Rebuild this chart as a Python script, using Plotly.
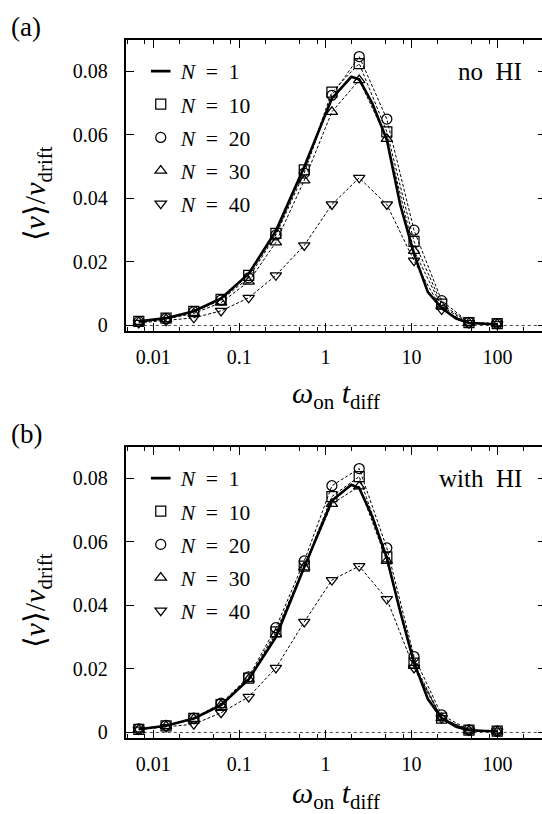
import plotly.graph_objects as go

# ---------------- data ----------------
x_pts = [0.0068, 0.0141, 0.0296, 0.0614, 0.1285, 0.266, 0.568, 1.19, 2.47, 5.17, 10.7, 22.4, 46.5, 99]
x_n1 = [0.0068, 0.0141, 0.0296, 0.0614, 0.1285, 0.266, 0.568, 1.19, 2.0, 2.47, 3.5, 5.17, 7.4, 10.7, 15.5, 22.4, 33, 46.5, 99]

# panel (a): no HI
a_n1 = [0.0013, 0.0023, 0.0045, 0.0085, 0.0163, 0.0298, 0.0500, 0.0715, 0.0783, 0.0775, 0.0700, 0.0585, 0.0380, 0.0225, 0.0105, 0.0055, 0.0022, 0.0008, 0.0003]
a_n10 = [0.0013, 0.0023, 0.0044, 0.0082, 0.0158, 0.0290, 0.0490, 0.0735, 0.0825, 0.0610, 0.0265, 0.0067, 0.0009, 0.0006]
a_n20 = [0.0012, 0.0022, 0.0043, 0.0080, 0.0150, 0.0285, 0.0480, 0.0725, 0.0847, 0.0650, 0.0300, 0.0078, 0.0010, 0.0006]
a_n30 = [0.0011, 0.0020, 0.0038, 0.0072, 0.0138, 0.0262, 0.0457, 0.0673, 0.0773, 0.0588, 0.0235, 0.0060, 0.0008, 0.0005]
a_n40 = [0.0008, 0.0015, 0.0024, 0.0046, 0.0087, 0.0158, 0.0252, 0.0381, 0.0465, 0.0381, 0.0204, 0.0050, 0.0007, 0.0004]

# panel (b): with HI
b_n1 = [0.0010, 0.0021, 0.0044, 0.0086, 0.0167, 0.0300, 0.0520, 0.0730, 0.0780, 0.0770, 0.0680, 0.0550, 0.0380, 0.0220, 0.0105, 0.0045, 0.0018, 0.0007, 0.0003]
b_n10 = [0.0010, 0.0021, 0.0044, 0.0088, 0.0171, 0.0317, 0.0524, 0.0743, 0.0806, 0.0553, 0.0218, 0.0045, 0.0007, 0.0004]
b_n20 = [0.0011, 0.0022, 0.0045, 0.0092, 0.0175, 0.0330, 0.0540, 0.0777, 0.0831, 0.0581, 0.0239, 0.0055, 0.0008, 0.0004]
b_n30 = [0.0010, 0.0020, 0.0043, 0.0086, 0.0168, 0.0310, 0.0520, 0.0720, 0.0775, 0.0540, 0.0210, 0.0045, 0.0006, 0.0003]
b_n40 = [0.0009, 0.0017, 0.0026, 0.0062, 0.0112, 0.0203, 0.0348, 0.0480, 0.0524, 0.0420, 0.0203, 0.0045, 0.0006, 0.0003]

NB = "\u00a0"
series_labels = [f"<i>N</i>{NB}{NB}={NB}{NB}{v}" for v in ("1", "10", "20", "30", "40")]
marker_symbols = ["square-open", "circle-open", "triangle-up-open", "triangle-down-open"]

x_tickvals = [0.01, 0.1, 1, 10, 100]
x_ticktext = ["0.01", "0.1", "1", "10", "100"]
x_minor = [m * 10.0 ** e for e in range(-3, 3) for m in (2, 5, 8)]
y_tickvals = [0, 0.02, 0.04, 0.06, 0.08]
y_ticktext = ["0", "0.02", "0.04", "0.06", "0.08"]

panel_tags = ["(a)", "(b)"]
panel_notes = [f"no{NB} HI", f"with{NB} HI"]

# ---------------- figure ----------------
# the plot frame continues slightly past the right edge of the 542 px window (as in the reference)
W, H = 548, 814
FONT = "Liberation Serif, Times New Roman, serif"
fig = go.Figure()

def py(p):
    return 1 - p / H

def px(p):
    return p / W

panels = [
    dict(n1=a_n1, ms=[a_n10, a_n20, a_n30, a_n40], xa="x", ya="y", leg="legend"),
    dict(n1=b_n1, ms=[b_n10, b_n20, b_n30, b_n40], xa="x2", ya="y2", leg="legend2"),
]

for pi, p in enumerate(panels):
    fig.add_trace(go.Scatter(x=x_n1, y=p["n1"], mode="lines", xaxis=p["xa"], yaxis=p["ya"],
                             line=dict(color="black", width=2.6), showlegend=False, hoverinfo="skip"))
    fig.add_trace(go.Scatter(x=[None], y=[None], mode="markers", xaxis=p["xa"], yaxis=p["ya"],
                             marker=dict(symbol="line-ew", size=14, line=dict(color="black", width=2.6)),
                             name=series_labels[0], legend=p["leg"], legendgroup=f"{pi}g0", showlegend=True))
    for k, ys in enumerate(p["ms"]):
        fig.add_trace(go.Scatter(x=x_pts, y=ys, mode="lines", xaxis=p["xa"], yaxis=p["ya"],
                                 line=dict(color="black", width=1, dash="3px,2px"),
                                 showlegend=False, hoverinfo="skip"))
    for k, ys in enumerate(p["ms"]):
        fig.add_trace(go.Scatter(x=x_pts, y=ys, mode="markers", xaxis=p["xa"], yaxis=p["ya"],
                                 marker=dict(symbol=marker_symbols[k], size=10, color="black",
                                             line=dict(color="black", width=1.25)),
                                 name=series_labels[k + 1], legend=p["leg"], legendgroup=f"{pi}g{k+1}"))

axis_common_x = dict(type="log", range=[-2.3188, 2.5623], showline=True, linecolor="black", linewidth=1.8,
                     mirror="allticks", ticks="inside", ticklen=8, tickwidth=1.2, tickcolor="black",
                     tickvals=x_tickvals, ticktext=x_ticktext, showgrid=False, zeroline=False,
                     tickfont=dict(family=FONT, size=20, color="black"), ticklabelstandoff=8,
                     ticklabeloverflow="allow",
                     minor=dict(tickvals=x_minor, ticks="inside", ticklen=4, tickwidth=1.2, tickcolor="black",
                                showgrid=False),
                     domain=[px(126), px(547)])
axis_common_y = dict(range=[-0.0016, 0.09], showline=True, linecolor="black", linewidth=1.8,
                     mirror="allticks", ticks="inside", ticklen=8, tickwidth=1.2, tickcolor="black",
                     tickvals=y_tickvals, ticktext=y_ticktext, showgrid=False, zeroline=False,
                     tickfont=dict(family=FONT, size=20, color="black"), ticklabelstandoff=12)

fig.update_layout(
    xaxis=dict(axis_common_x, anchor="y"),
    yaxis=dict(axis_common_y, anchor="x", domain=[py(333), py(40)]),
    xaxis2=dict(axis_common_x, anchor="y2"),
    yaxis2=dict(axis_common_y, anchor="x2", domain=[py(743), py(450)]),
)

leg_common = dict(font=dict(family=FONT, size=21.5, color="black"), bgcolor="rgba(0,0,0,0)",
                  borderwidth=0, traceorder="grouped", tracegroupgap=2.2, xanchor="left", yanchor="top",
                  itemwidth=30)
fig.update_layout(
    legend=dict(leg_common, x=px(141), y=py(51)),
    legend2=dict(leg_common, x=px(141), y=py(461)),
)

annotations = []
shapes = []
for pi, p in enumerate(panels):
    off = 410 * pi
    annotations.append(dict(text=panel_tags[pi], xref="paper", yref="paper", x=px(9), y=py(27 + off),
                            xanchor="left", yanchor="middle", showarrow=False,
                            font=dict(family=FONT, size=27, color="black")))
    annotations.append(dict(text=panel_notes[pi], xref="paper", yref="paper", x=px(525), y=py(72 + off),
                            xanchor="right", yanchor="middle", showarrow=False,
                            font=dict(family=FONT, size=25, color="black")))
    annotations.append(dict(text="<i>ω</i><sub>on</sub> <i>t</i><sub>diff</sub>", xref="paper", yref="paper",
                            x=px(337), y=py(398 if pi == 0 else 801), xanchor="center", yanchor="middle",
                            showarrow=False, font=dict(family=FONT, size=30, color="black")))
    annotations.append(dict(text="⟨<i>v</i>⟩/<i>v</i><sub>drift</sub>", xref="paper", yref="paper",
                            x=px(37), y=py(195 + off), xanchor="center", yanchor="middle", showarrow=False,
                            textangle=-90, font=dict(family=FONT, size=30, color="black")))
    xd = "x domain" if pi == 0 else "x2 domain"
    yr = "y" if pi == 0 else "y2"
    shapes.append(dict(type="line", xref=xd, yref=yr, x0=0, x1=1, y0=0, y1=0,
                       line=dict(color="#444", width=1, dash="dot"), layer="below"))

fig.update_layout(width=W, height=H, margin=dict(l=0, r=0, t=0, b=0),
                  paper_bgcolor="white", plot_bgcolor="white", font=dict(family=FONT),
                  annotations=annotations, shapes=shapes, showlegend=True)

page_fix = ("document.documentElement.style.overflow='hidden';"
            "document.body.style.margin='0';document.body.style.overflow='hidden';")
fig.write_html("out.html", post_script=page_fix, config={"displayModeBar": False})
